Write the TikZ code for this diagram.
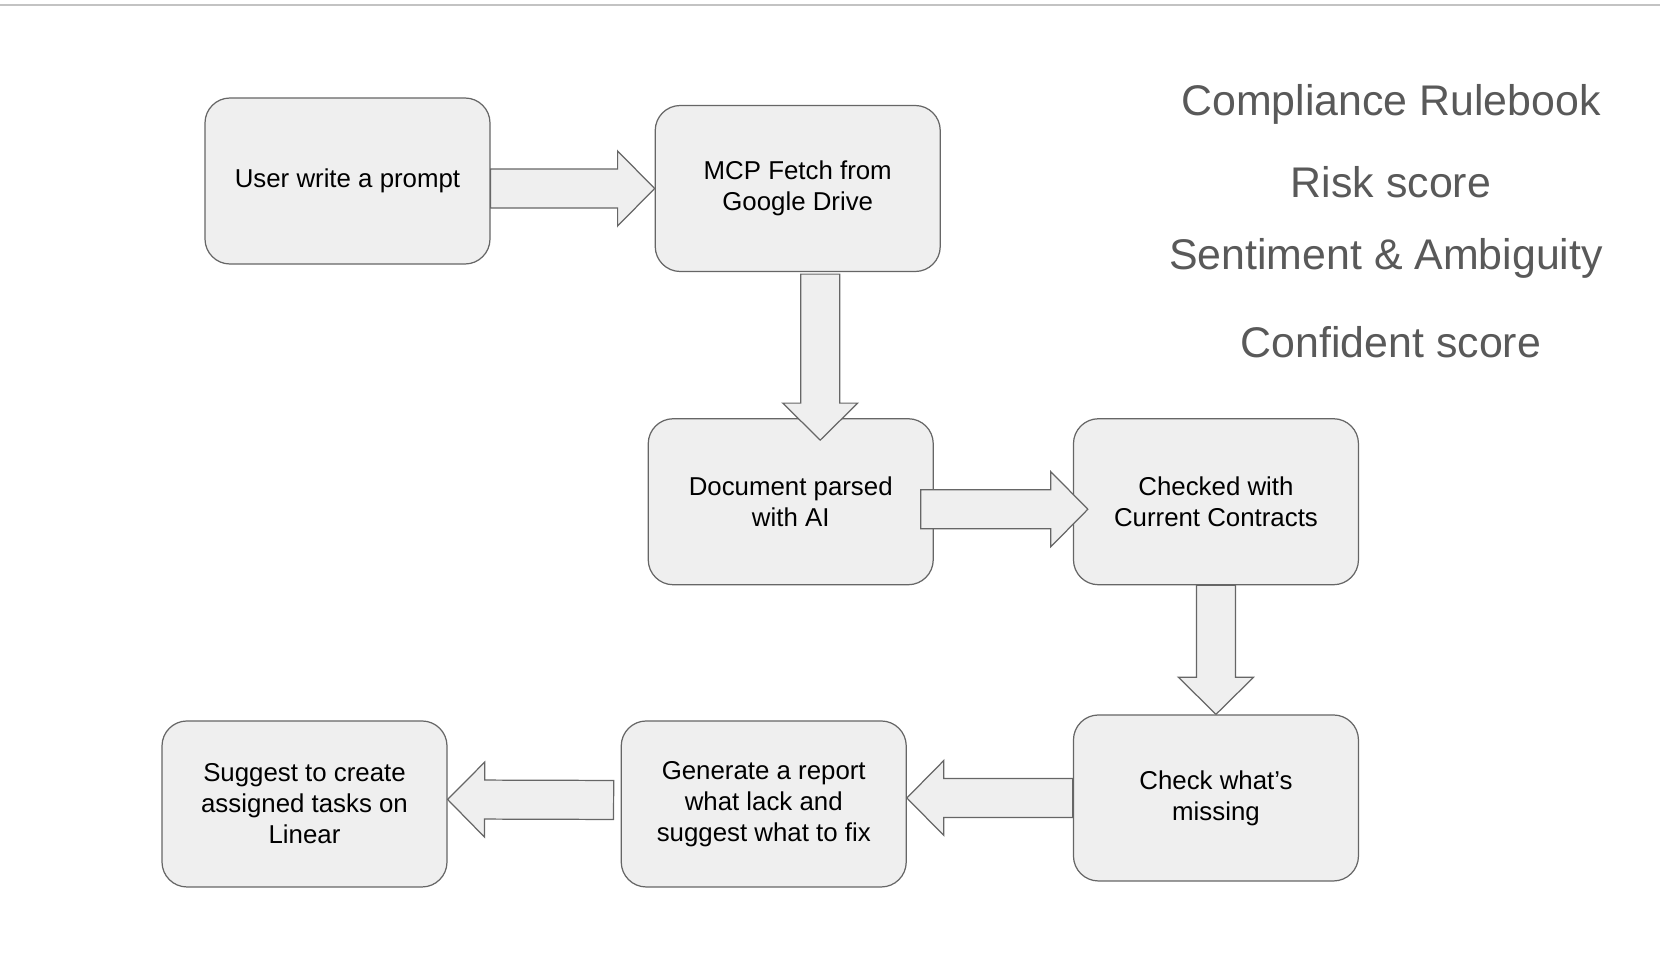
\documentclass[tikz,border=0pt]{standalone}
\usepackage{fontspec}
\setmainfont{Liberation Sans}
\usepackage{tikz}
\usetikzlibrary{positioning,calc}

\definecolor{boxfill}{HTML}{EFEFEF}
\definecolor{boxline}{HTML}{666666}
\definecolor{notegray}{HTML}{595959}
\definecolor{rulegray}{HTML}{C3C3C3}

% fat block arrow from #1 to #2
\newcommand{\fatarrow}[2]{%
    \coordinate (fa-s) at #1;
    \coordinate (fa-t) at #2;
    \coordinate (fa-h) at ($(fa-t)!0.74cm!(fa-s)$);
    \draw[blockarrow] ($(fa-s)!0.39cm!90:(fa-t)$) -- ($(fa-h)!0.39cm!90:(fa-t)$)
        -- ($(fa-h)!0.75cm!90:(fa-t)$) -- (fa-t) -- ($(fa-h)!0.75cm!-90:(fa-t)$)
        -- ($(fa-h)!0.39cm!-90:(fa-t)$) -- ($(fa-s)!0.39cm!-90:(fa-t)$) -- cycle;%
}

\begin{document}
\begin{tikzpicture}[
        box/.style={draw=boxline, line width=0.7pt, fill=boxfill, rounded corners=0.5cm,
            minimum width=5.7cm, minimum height=3.32cm, align=center,
            font=\fontsize{14.7}{17.6}\selectfont},
        blockarrow/.style={draw=boxline, line width=0.7pt, fill=boxfill},
        note/.style={text=notegray, anchor=base, font=\fontsize{24.4}{28}\selectfont}
    ]
        \useasboundingbox (0,0) rectangle (33.2,-19.4);
        \draw[rulegray, line width=0.05cm] (0,-0.1) -- (33.2,-0.1);

        \node[box] (prompt) at (6.95,-3.62) {User write a prompt};
        \node[box, right=3.28cm of prompt, yshift=-0.15cm] (fetch) {MCP Fetch from\\Google Drive};
        \node[box, below=2.92cm of fetch, xshift=-0.14cm] (parse) {Document parsed\\with AI};
        \node[box, right=2.78cm of parse] (contracts) {Checked with\\Current Contracts};
        \node[box, below=2.58cm of contracts] (missing) {Check what’s\\missing};
        \node[box, left=3.32cm of missing, yshift=-0.12cm] (report) {Generate a report\\what lack and\\suggest what to fix};
        \node[box, left=3.46cm of report] (tasks) {Suggest to create\\assigned tasks on\\Linear};

        \fatarrow{(prompt.east |- fetch.west)}{(fetch.west)}
        \fatarrow{($(fetch.south)+(0.45,-0.04)$)}{($(fetch.south |- parse.north)+(0.45,-0.44)$)}
        \fatarrow{($(parse.east)+(-0.26,-0.15)$)}{($(contracts.west)+(0.3,-0.15)$)}
        \fatarrow{(contracts.south)}{(missing.north)}
        \fatarrow{(missing.west)}{(report.east |- missing.west)}
        \fatarrow{($(report.west)+(-0.14,0.08)$)}{($(tasks.east)+(0,0.09)$)}

        \node[note] (rulebook) at (27.82,-2.30) {Compliance Rulebook};
        \node[note] (risk) at (27.82,-3.94) {Risk score};
        \node[note] (sentiment) at (27.72,-5.38) {Sentiment \& Ambiguity};
        \node[note] (confident) at (27.82,-7.14) {Confident score};
    \end{tikzpicture}
\end{document}
